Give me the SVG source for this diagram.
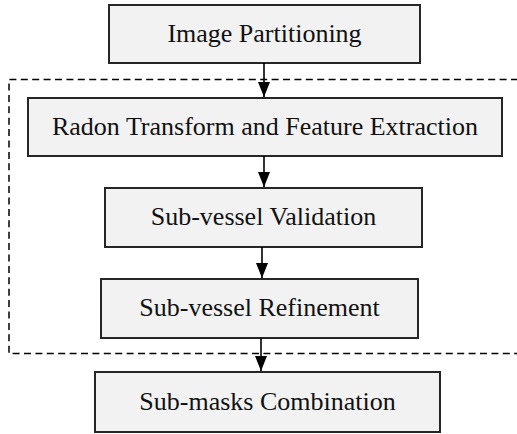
<svg xmlns="http://www.w3.org/2000/svg" width="517" height="434" viewBox="0 0 517 434">
<defs>
<style>
.box{fill:#f2f2f2;stroke:#262626;stroke-width:2}
.lbl{font-family:"Liberation Serif","Times New Roman",serif;font-size:26px;fill:#111;text-anchor:middle}
.con{stroke:#000;stroke-width:1.6;fill:none}
.dash{stroke:#000;stroke-width:1.5;fill:none;stroke-dasharray:7,4.4}
</style>
<marker id="ah" markerWidth="16" markerHeight="12" refX="15" refY="6" orient="auto" markerUnits="userSpaceOnUse" viewBox="0 0 16 12">
<path d="M0,0 L15,6 L0,12 Z" fill="#000"/>
</marker>
</defs>
<rect width="517" height="434" fill="#fff"/>
<path class="dash" d="M518,79.5 H9 V353.5 H518"/>
<g id="n1"><rect class="box" x="109" y="5" width="311" height="58"/><text class="lbl" x="264.5" y="42">Image Partitioning</text></g>
<g id="n2"><rect class="box" x="28" y="98" width="474" height="58"/><text class="lbl" x="265" y="135">Radon Transform and Feature Extraction</text></g>
<g id="n3"><rect class="box" x="105" y="188" width="317" height="59"/><text class="lbl" x="263.5" y="225">Sub-vessel Validation</text></g>
<g id="n4"><rect class="box" x="101" y="279" width="317" height="59"/><text class="lbl" x="259.5" y="316">Sub-vessel Refinement</text></g>
<g id="n5"><rect class="box" x="95" y="372" width="345" height="60"/><text class="lbl" x="267.5" y="410">Sub-masks Combination</text></g>
<g id="connectors">
<line class="con" x1="264" y1="63" x2="264" y2="97" marker-end="url(#ah)"/>
<line class="con" x1="264" y1="156" x2="264" y2="187" marker-end="url(#ah)"/>
<line class="con" x1="262" y1="247" x2="262" y2="278" marker-end="url(#ah)"/>
<line class="con" x1="261" y1="338" x2="261" y2="371" marker-end="url(#ah)"/>
</g>
</svg>
